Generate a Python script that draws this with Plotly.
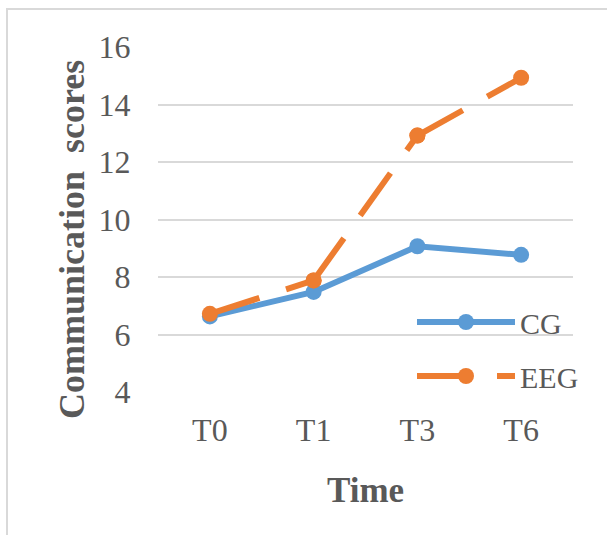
import plotly.graph_objects as go

categories = ["T0", "T1", "T3", "T6"]
cg_scores = [6.63, 7.48, 9.07, 8.77]
eeg_scores = [6.72, 7.88, 12.92, 14.93]
y_ticks = [4, 6, 8, 10, 12, 14, 16]

BLUE = "#5B9BD5"
ORANGE = "#ED7D31"
GRAY_TXT = "#595959"
FONT = "Times New Roman, Liberation Serif, DejaVu Serif, serif"

# plot area in pixels
L, R, T, B = 158, 573, 47, 392
W, H = 607, 535

fig = go.Figure()

fig.add_trace(go.Scatter(
    x=categories, y=cg_scores, mode="lines+markers", name="CG",
    line=dict(color=BLUE, width=6), marker=dict(size=16, color=BLUE),
    legendgroup="cg",
))

# Excel restarts the dash pattern on each segment
for i in range(len(categories) - 1):
    fig.add_trace(go.Scatter(
        x=categories[i:i + 2], y=eeg_scores[i:i + 2], mode="lines+markers",
        name="EEG", line=dict(color=ORANGE, width=6, dash="52px,28px"),
        marker=dict(size=16, color=ORANGE),
        legendgroup="eeg", showlegend=(i == 0),
    ))

def px_x(p):
    return (p - L) / (R - L)

def px_y(p):
    return (B - p) / (B - T)

fig.update_layout(
    width=W, height=H,
    margin=dict(l=L, r=W - R, t=T, b=H - B),
    paper_bgcolor="white", plot_bgcolor="white",
    font=dict(family=FONT, color=GRAY_TXT),
    showlegend=True,
    legend=dict(
        x=px_x(412), y=px_y(296), xanchor="left", yanchor="top",
        font=dict(family=FONT, size=30, color=GRAY_TXT),
        bgcolor="rgba(0,0,0,0)", itemwidth=98, tracegroupgap=12,
        traceorder="grouped",
    ),
    xaxis=dict(
        type="category", categoryorder="array", categoryarray=categories,
        range=[-0.5, len(categories) - 0.5],
        showgrid=False, zeroline=False, showline=False,
        ticks="outside", ticklen=10, tickcolor="rgba(0,0,0,0)",
        tickfont=dict(family=FONT, size=32, color=GRAY_TXT),
    ),
    yaxis=dict(
        range=[4, 16], tickvals=y_ticks, ticktext=[str(v) for v in y_ticks],
        showgrid=True, gridcolor="#D9D9D9", gridwidth=2,
        zeroline=False, showline=False,
        ticks="outside", ticklen=20, tickcolor="rgba(0,0,0,0)",
        tickfont=dict(family=FONT, size=32, color=GRAY_TXT),
    ),
    annotations=[
        dict(text="<b>Communication  scores</b>", textangle=-90,
             xref="paper", yref="paper", x=px_x(72), y=px_y(240),
             xanchor="center", yanchor="middle", showarrow=False,
             font=dict(family=FONT, size=36, color=GRAY_TXT)),
        dict(text="<b>Time</b>",
             xref="paper", yref="paper", x=0.5, y=px_y(490),
             xanchor="center", yanchor="middle", showarrow=False,
             font=dict(family=FONT, size=35, color=GRAY_TXT)),
    ],
    shapes=[
        dict(type="rect", xref="paper", yref="paper",
             x0=px_x(7), x1=px_x(700), y0=px_y(700), y1=px_y(9),
             line=dict(color="#D9D9D9", width=2), fillcolor="rgba(0,0,0,0)",
             layer="below"),
    ],
)

fig.write_html("out.html")
